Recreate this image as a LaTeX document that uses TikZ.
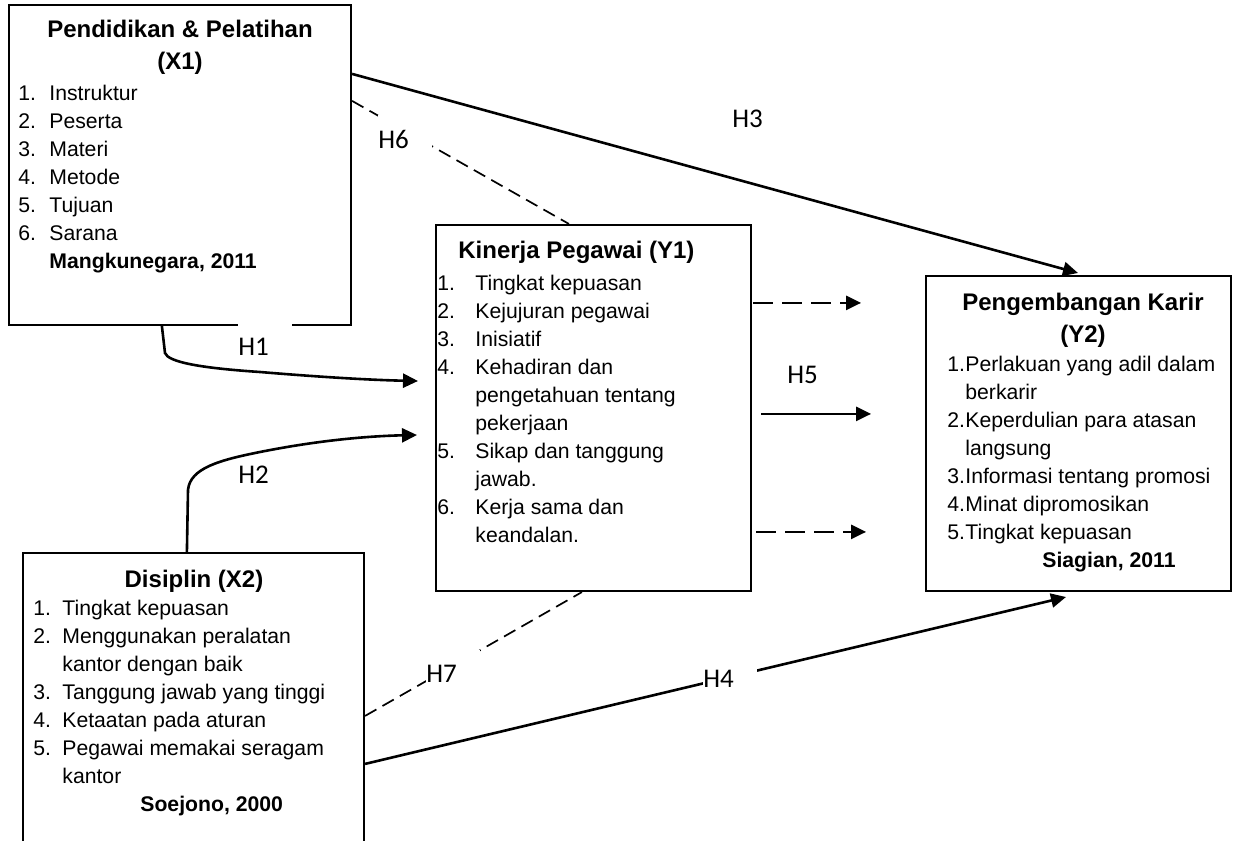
\documentclass[tikz,border=0pt]{standalone}
\usepackage{fontspec}
\setmainfont{Liberation Sans}
\newfontfamily\labelfont{Carlito}
\usetikzlibrary{arrows.meta,fit,calc}
\newlength{\numw}
\newcommand{\nomor}[1]{\makebox[\numw][l]{#1}}
\newcommand{\sambung}{\hspace*{\numw}}
\newcommand{\isi}[3]{\begin{minipage}[t]{#1}\setlength{\numw}{#2}\raggedright\fontsize{10.6}{14}\selectfont #3\end{minipage}}
\newcommand{\judul}[2]{\begin{minipage}[t]{#1}\centering\fontsize{12}{16}\selectfont\bfseries #2\end{minipage}}

\begin{document}
\begin{tikzpicture}[x=0.5pt, y=-0.5pt,
  box/.style = {draw, line width=1.1pt, inner sep=0pt},
  teks/.style = {inner sep=0pt},
  hlabel/.style = {fill=white, inner sep=0pt, text width=27pt, minimum height=24.5pt, align=left, anchor=west, font=\labelfont\fontsize{13.5}{16}\selectfont},
  panah/.style = {line width=1.3pt, -{Triangle[length=7.5pt,width=7pt]}},
  putus/.style = {line width=0.85pt, dash pattern=on 6.5pt off 3.5pt},
  putuspanah/.style = {panah, dash pattern=on 10pt off 4.5pt}]
      \useasboundingbox (0,0) rectangle (1233,841);
      \clip (0,0) rectangle (1233,841);

      \node[box, fit={(9,5) (351,325)}] (x1) {};
      \node[box, fit={(436,225) (751,591)}] (y1) {};
      \node[box, fit={(926,276) (1231,591)}] (y2) {};
      \node[box, fit={(23,553) (364,880)}] (x2) {};

      \node[teks, anchor=base] (x1judul) at (180,37) {\judul{170pt}{Pendidikan \& Pelatihan\\(X1)}};
      \node[teks, anchor=base west] (x1isi) at (18,100) {\isi{160pt}{15.5pt}{\nomor{1.}Instruktur\\\nomor{2.}Peserta\\\nomor{3.}Materi\\\nomor{4.}Metode\\\nomor{5.}Tujuan\\\nomor{6.}Sarana\\\sambung\textbf{Mangkunegara, 2011}}};

      \node[teks, anchor=base west, font=\fontsize{12}{16}\selectfont\bfseries] (y1judul) at (458,258) {Kinerja Pegawai (Y1)};
      \node[teks, anchor=base west] (y1isi) at (437,290) {\isi{150pt}{19pt}{\nomor{1.}Tingkat kepuasan\\\nomor{2.}Kejujuran pegawai\\\nomor{3.}Inisiatif\\\nomor{4.}Kehadiran dan\\\sambung pengetahuan tentang\\\sambung pekerjaan\\\nomor{5.}Sikap dan tanggung\\\sambung jawab.\\\nomor{6.}Kerja sama dan\\\sambung keandalan.}};

      \node[teks, anchor=base] (y2judul) at (1083,310) {\judul{150pt}{Pengembangan Karir\\(Y2)}};
      \node[teks, anchor=base west] (y2isi) at (947,371) {\isi{150pt}{9pt}{\nomor{1.}Perlakuan yang adil dalam\\\sambung berkarir\\\nomor{2.}Keperdulian para atasan\\\sambung langsung\\\nomor{3.}Informasi tentang promosi\\\nomor{4.}Minat dipromosikan\\\nomor{5.}Tingkat kepuasan\\\hspace*{47.5pt}\textbf{Siagian, 2011}}};

      \node[teks, anchor=base, font=\fontsize{12}{16}\selectfont\bfseries] (x2judul) at (194,587) {Disiplin (X2)};
      \node[teks, anchor=base west] (x2isi) at (33,615) {\isi{165pt}{14.5pt}{\nomor{1.}Tingkat kepuasan\\\nomor{2.}Menggunakan peralatan\\\sambung kantor dengan baik\\\nomor{3.}Tanggung jawab yang tinggi\\\nomor{4.}Ketaatan pada aturan\\\nomor{5.}Pegawai memakai seragam\\\sambung kantor\\\hspace*{53.5pt}\textbf{Soejono, 2000}}};

      \node[hlabel] (lh1) at (238,347) {H1};
      \node[hlabel] (lh2) at (238,475) {H2};

      \coordinate (h1end) at (418,381);
      \coordinate (h2end) at (417,435);
      \coordinate (h3end) at (1078,273);
      \coordinate (h4end) at (1066,597);

      \draw[panah] ($(x1.south west)+(154,0)$) -- (165,353) .. controls (168,362) and (200,368) .. (260,372) .. controls (320,377) and (370,380) .. (h1end);
      \draw[panah] ($(x2.north west)+(165,0)$) -- (188,490) .. controls (190,468) and (220,460) .. (260,452) .. controls (320,440) and (370,436) .. (h2end);
      \draw[panah] ($(x1.north east)+(0,70)$) -- (h3end);
      \draw[putus] ($(x1.north east)+(0,97)$) -- ($(y1.north west)+(134,0)$);
      \draw[putus] ($(x2.north east)+(0,164)$) -- ($(y1.south west)+(147,0)$);
      \draw[panah] ($(x2.north east)+(0,212)$) -- (h4end);
      \draw[putuspanah] ($(y1.north east)+(1,79)$) -- ++(108,0);
      \draw[panah] ($(y1.north east)+(9,190)$) -- ++(110,0);
      \draw[putuspanah] ($(y1.north east)+(4,308)$) -- ++(110,0);

      \node[hlabel] (lh3) at (732,119) {H3};
      \node[hlabel] (lh5) at (787,375) {H5};
      \node[hlabel] (lh6) at (378,139) {H6};
      \node[hlabel] (lh7) at (426,674) {H7};
      \node[hlabel] (lh4) at (703,679) {H4};
    \end{tikzpicture}
\end{document}
